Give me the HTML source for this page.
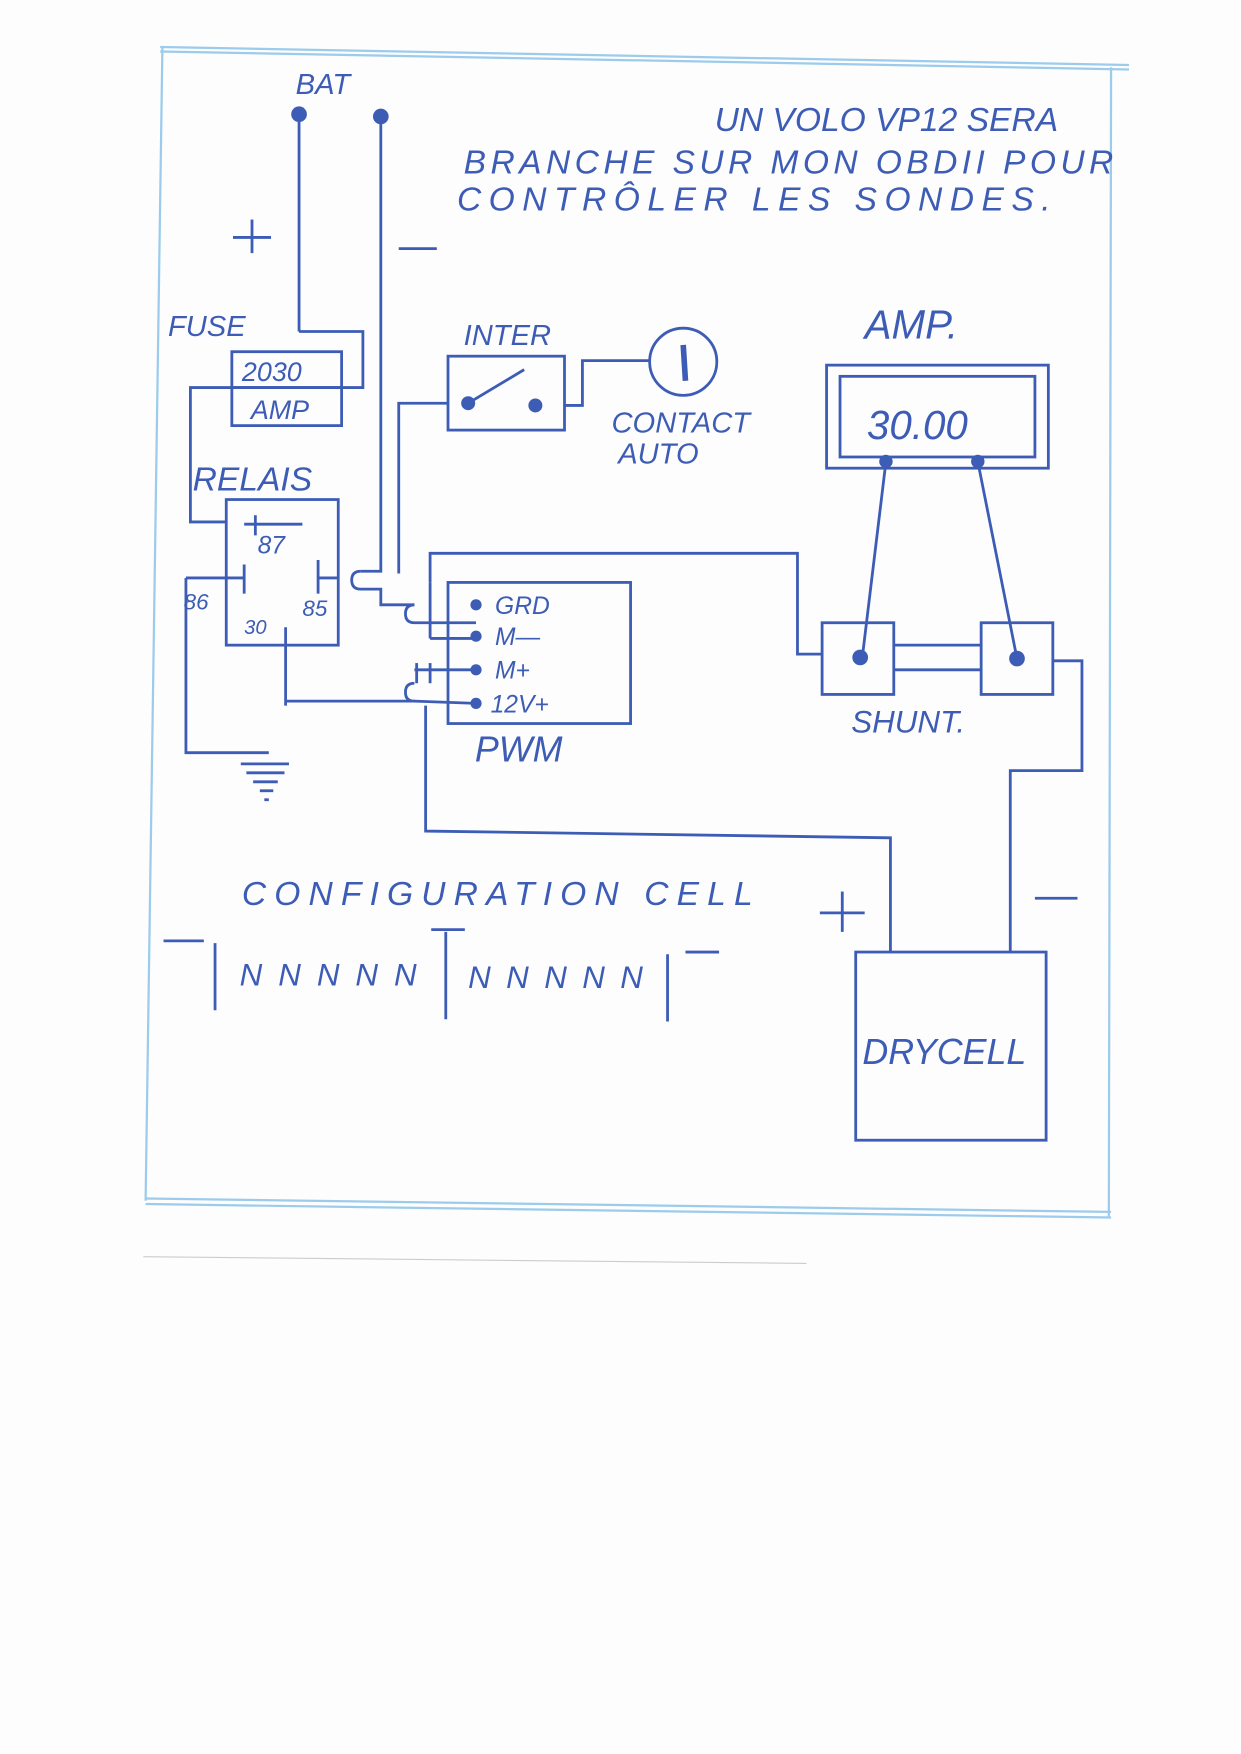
<!DOCTYPE html>
<html><head><meta charset="utf-8"><style>
html,body{margin:0;padding:0;background:#fdfdfd;}
svg{display:block;}
text{font-family:"Liberation Sans",sans-serif;fill:#3d5cb5;font-style:italic;}
</style></head><body>
<svg width="1241" height="1754" viewBox="0 0 1108 1566" preserveAspectRatio="none">
<rect width="1108" height="1566" fill="#fdfdfd"/>
<g stroke="#9ccbec" stroke-width="2" fill="none">
<line x1="143" y1="42" x2="1008" y2="58"/><line x1="143" y1="46" x2="1008" y2="62"/>
<line x1="145" y1="42" x2="130" y2="1072"/>
<line x1="130" y1="1070" x2="992" y2="1082"/><line x1="130" y1="1075" x2="992" y2="1087"/>
<line x1="992" y1="60" x2="990" y2="1086"/>
</g>
<line x1="128" y1="1122" x2="720" y2="1128" stroke="#ccc" stroke-width="1"/>
<g stroke="#3d5cb5" stroke-width="2.5" fill="none">
<!-- battery wires -->
<line x1="267" y1="102" x2="267" y2="296"/><polyline points="267,296 324,296 324,346 170,346 170,466 202,466"/>
<polyline points="340,104 340,510 322,510"/>
<!-- fuse -->
<rect x="207" y="314" width="98" height="66"/><line x1="207" y1="346" x2="305" y2="346"/>
<!-- relay -->
<rect x="202" y="446" width="100" height="130"/>
<line x1="166" y1="516" x2="218" y2="516"/><line x1="218" y1="504" x2="218" y2="530"/>
<polyline points="166,516 166,672 240,672"/>
<line x1="215" y1="682" x2="258" y2="682"/><line x1="220" y1="690" x2="254" y2="690"/><line x1="226" y1="698" x2="248" y2="698"/><line x1="232" y1="706" x2="244" y2="706"/><line x1="236" y1="714" x2="240" y2="714"/>
<line x1="228" y1="460" x2="228" y2="478"/><line x1="218" y1="468" x2="270" y2="468"/>
<line x1="284" y1="500" x2="284" y2="530"/><line x1="284" y1="516" x2="302" y2="516"/>
<line x1="255" y1="560" x2="255" y2="630"/><line x1="255" y1="626" x2="370" y2="626"/>
<path d="M322 510 q-8 0 -8 8 q0 8 8 8 L340 526 L340 540 L370 540"/>
<path d="M370 540 q-8 0 -8 8 q0 8 8 8 L425 556"/>
<!-- inter -->
<rect x="400" y="318" width="104" height="66"/>
<polyline points="356,512 356,360 400,360"/>
<line x1="418" y1="360" x2="468" y2="330"/><circle cx="418" cy="360" r="5" fill="#3d5cb5"/><circle cx="478" cy="362" r="5" fill="#3d5cb5"/>
<polyline points="504,362 520,362 520,322 580,322"/>
<circle cx="610" cy="323" r="30"/><line x1="610" y1="308" x2="612" y2="340" stroke-width="5"/>
<!-- PWM -->
<rect x="400" y="520" width="163" height="126"/>
<polyline points="384,520 384,494 712,494 712,584 734,584"/>
<line x1="384" y1="520" x2="384" y2="570"/><line x1="384" y1="570" x2="425" y2="570"/>
<polyline points="370,598 425,598"/><line x1="372" y1="592" x2="372" y2="610"/><line x1="384" y1="592" x2="384" y2="610"/>
<path d="M370 610 q-8 0 -8 8 q0 8 8 8 L425 628"/>
<polyline points="380,630 380,742 795,748 795,850"/>
<!-- amp meter -->
<rect x="738" y="326" width="198" height="92"/><rect x="750" y="336" width="174" height="72"/>
<line x1="791" y1="412" x2="770" y2="586"/><line x1="873" y1="412" x2="908" y2="588"/>
<!-- shunt -->
<rect x="734" y="556" width="64" height="64"/><rect x="876" y="556" width="64" height="64"/>
<line x1="798" y1="576" x2="876" y2="576"/><line x1="798" y1="598" x2="876" y2="598"/>
<polyline points="940,590 966,590 966,688 902,688 902,850"/>
<!-- drycell -->
<rect x="764" y="850" width="170" height="168"/>
<!-- signs -->
<line x1="208" y1="212" x2="242" y2="212"/><line x1="225" y1="196" x2="225" y2="226"/>
<line x1="356" y1="222" x2="390" y2="222"/>
<line x1="732" y1="815" x2="772" y2="815"/><line x1="752" y1="796" x2="752" y2="832"/>
<line x1="924" y1="802" x2="962" y2="802"/>
<!-- cells -->
<line x1="146" y1="840" x2="182" y2="840"/><line x1="192" y1="842" x2="192" y2="902"/>
<line x1="398" y1="832" x2="398" y2="910"/><line x1="385" y1="830" x2="415" y2="830"/>
<line x1="596" y1="852" x2="596" y2="912"/><line x1="612" y1="850" x2="642" y2="850"/>
</g>
<g fill="#3d5cb5">
<circle cx="267" cy="102" r="7"/><circle cx="340" cy="104" r="7"/>
<circle cx="425" cy="540" r="5"/><circle cx="425" cy="568" r="5"/><circle cx="425" cy="598" r="5"/><circle cx="425" cy="628" r="5"/>
<circle cx="791" cy="412" r="6"/><circle cx="873" cy="412" r="6"/>
<circle cx="768" cy="587" r="7"/><circle cx="908" cy="588" r="7"/>
</g>
<text x="264" y="84" font-size="26">BAT</text>
<text x="638" y="117" font-size="30">UN VOLO VP12 SERA</text>
<text x="414" y="155" font-size="30" textLength="580">BRANCHE SUR MON OBDII POUR</text>
<text x="408" y="188" font-size="30" textLength="530">CONTRÔLER LES SONDES.</text>
<text x="150" y="300" font-size="26">FUSE</text>
<text x="216" y="340" font-size="24">2030</text>
<text x="224" y="374" font-size="24">AMP</text>
<text x="172" y="438" font-size="30">RELAIS</text>
<text x="230" y="494" font-size="22">87</text>
<text x="164" y="544" font-size="20">86</text>
<text x="270" y="550" font-size="20">85</text>
<text x="218" y="566" font-size="18">30</text>
<text x="414" y="308" font-size="26">INTER</text>
<text x="546" y="386" font-size="26">CONTACT</text>
<text x="552" y="414" font-size="26">AUTO</text>
<text x="772" y="302" font-size="36">AMP.</text>
<text x="774" y="392" font-size="36">30.00</text>
<text x="442" y="548" font-size="22">GRD</text>
<text x="442" y="576" font-size="22">M—</text>
<text x="442" y="606" font-size="22">M+</text>
<text x="438" y="636" font-size="22">12V+</text>
<text x="424" y="680" font-size="32">PWM</text>
<text x="760" y="654" font-size="28">SHUNT.</text>
<text x="216" y="808" font-size="30" textLength="456">CONFIGURATION CELL</text>
<text x="214" y="880" font-size="28" font-style="normal" textLength="158">NNNNN</text>
<text x="418" y="882" font-size="28" font-style="normal" textLength="156">NNNNN</text>
<text x="770" y="950" font-size="32">DRYCELL</text>
</svg>
</body></html>
